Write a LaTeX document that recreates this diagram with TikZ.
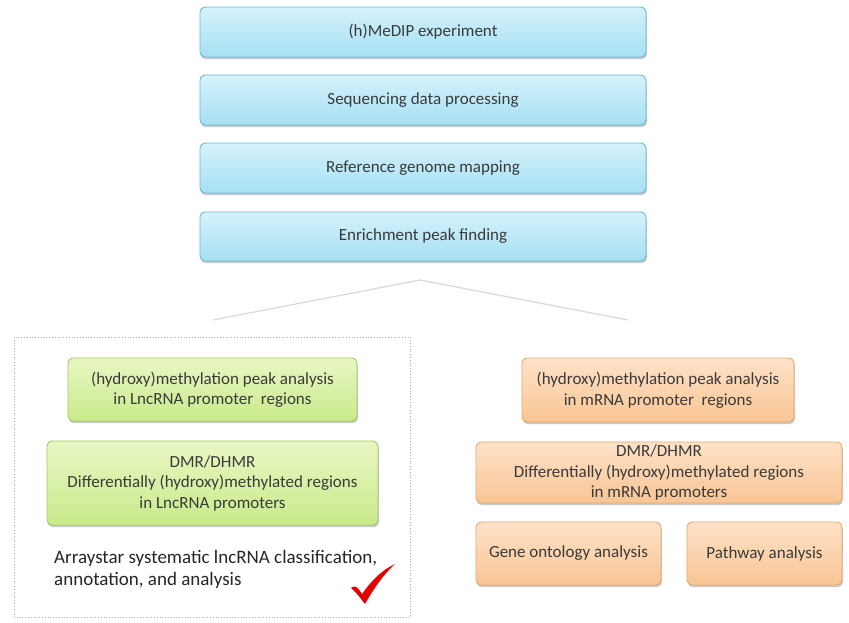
\documentclass[tikz,border=0pt]{standalone}
\usepackage{fontspec}
\setmainfont{Carlito}
\usetikzlibrary{shadows}
\definecolor{txt}{HTML}{3A3A3A}
\definecolor{blueTop}{HTML}{D4F2FB}
\definecolor{blueBot}{HTML}{A6E0F3}
\definecolor{blueLine}{HTML}{6CB8D2}
\definecolor{greenTop}{HTML}{E9F7C4}
\definecolor{greenBot}{HTML}{C9EA8A}
\definecolor{greenLine}{HTML}{A2CB62}
\definecolor{orangeTop}{HTML}{FDE2C8}
\definecolor{orangeBot}{HTML}{F9C594}
\definecolor{orangeLine}{HTML}{E7A86C}
\tikzset{
  box/.style={rounded corners=5pt, line width=0.9pt, align=center,
    text=txt, font=\fontsize{17}{20.5}\selectfont, inner sep=2pt,
    drop shadow={shadow xshift=0.8pt, shadow yshift=-2.2pt, opacity=0.35, fill=black!60}},
  bluebox/.style={box, draw=blueLine, top color=blueTop, bottom color=blueBot},
  greenbox/.style={box, draw=greenLine, top color=greenTop, bottom color=greenBot},
  orangebox/.style={box, draw=orangeLine, top color=orangeTop, bottom color=orangeBot},
  split/.style={draw=black!15, line width=1.2pt},
  frame/.style={draw=black!30, dotted, line width=0.8pt}
}
\begin{document}
\begin{tikzpicture}[x=1pt, y=-1pt]
  \useasboundingbox[fill=white] (0,0) rectangle (849,622);

  % pipeline steps
  \node[bluebox, minimum width=446pt, minimum height=50pt] (b1) at (423,32) {(h)MeDIP experiment};
  \node[bluebox, minimum width=446pt, minimum height=50pt] (b2) at (423,100) {Sequencing data processing};
  \node[bluebox, minimum width=446pt, minimum height=50pt] (b3) at (423,168) {Reference genome mapping};
  \node[bluebox, minimum width=446pt, minimum height=49pt] (b4) at (423,236.5) {Enrichment peak finding};

  % branching roof
  \coordinate (apex) at (420,280);
  \coordinate (cl) at (213,320);
  \coordinate (cr) at (628,320);
  \draw[split] (cl) -- (apex) -- (cr);

  % LncRNA branch
  \draw[frame] (14,337) rectangle (410,617);
  \node[greenbox, minimum width=289pt, minimum height=63pt] (g1) at (212.5,389.5)
    {(hydroxy)methylation peak analysis\\in LncRNA promoter\ \ regions};
  \node[greenbox, minimum width=331pt, minimum height=84pt] (g2) at (212.5,483)
    {DMR/DHMR\\Differentially (hydroxy)methylated regions\\in LncRNA promoters};
  \node[anchor=west, align=left, text=black!85, inner sep=0pt,
        font=\fontsize{19}{22}\selectfont] (note) at (54,569)
    {Arraystar systematic lncRNA classification,\\annotation, and analysis};

  % check mark
  \fill[red!90!black] (351,588) .. controls (355,585) and (357,586) .. (362,594)
    .. controls (372,580) and (382,570) .. (395,564)
    .. controls (384,574) and (374,588) .. (365,604)
    .. controls (361,599) and (357,593) .. cycle;

  % mRNA branch
  \node[orangebox, minimum width=272pt, minimum height=64pt] (o1) at (658,390)
    {(hydroxy)methylation peak analysis\\in mRNA promoter\ \ regions};
  \node[orangebox, minimum width=366pt, minimum height=61pt] (o2) at (659,472.5)
    {DMR/DHMR\\Differentially (hydroxy)methylated regions\\in mRNA promoters};
  \node[orangebox, minimum width=185pt, minimum height=63pt] (o3) at (568.5,553.5)
    {Gene ontology analysis};
  \node[orangebox, minimum width=155pt, minimum height=63pt] (o4) at (764.5,553.5)
    {Pathway analysis};
\end{tikzpicture}
\end{document}
